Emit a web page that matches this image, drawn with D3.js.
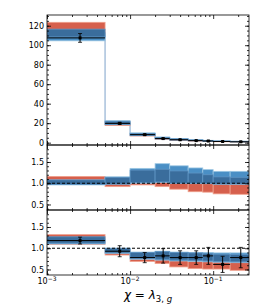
<!DOCTYPE html>
<html>
<head>
<meta charset="utf-8">
<script src="https://cdn.jsdelivr.net/npm/d3@7"></script>
<style>
  body { margin: 0; background: #fff; }
  text { font-family: "DejaVu Sans", sans-serif; fill: #000; }
</style>
</head>
<body>
<div id="chart"></div>
<script>
// Bin edges and bin centres (chi)
const edges = [0.001, 0.005, 0.01, 0.02, 0.03, 0.05, 0.075, 0.1, 0.16, 0.27];
const centers = [0.0025, 0.0075, 0.015, 0.025, 0.04, 0.0625, 0.0875, 0.13, 0.215];

// Top panel: distribution
const topData = [107.5, 19.8, 8.2, 4.2, 3.0, 2.1, 1.7, 1.2, 0.9];
const topErr = [4.5, 1.0, 0.6, 0.4, 0.3, 0.25, 0.2, 0.15, 0.12];
const topRedLo = [110, 17.5, 6.8, 3.4, 2.3, 1.6, 1.3, 0.9, 0.7];
const topRedHi = [123.5, 21, 8.8, 4.6, 3.2, 2.2, 1.8, 1.3, 1.0];
const topBlueLo = [104.5, 18.5, 7.5, 4.0, 2.8, 2.0, 1.6, 1.2, 0.9];
const topBlueHi = [112, 22.5, 10, 5.8, 4.1, 3.0, 2.4, 1.8, 1.4];
const topDarkLo = [108.5, 18.5, 7.2, 3.8, 2.7, 1.9, 1.5, 1.1, 0.85];
const topDarkHi = [116.5, 22, 9.6, 5.5, 3.9, 2.8, 2.2, 1.7, 1.3];

// Middle panel: model ratio
const midRedLo = [1.08, 0.92, 0.96, 0.92, 0.86, 0.80, 0.79, 0.75, 0.74];
const midRedHi = [1.16, 1.05, 1.05, 1.04, 1.02, 1.00, 0.99, 0.98, 0.97];
const midBlueLo = [0.96, 0.98, 1.00, 1.02, 1.00, 0.99, 0.99, 0.98, 0.98];
const midBlueHi = [1.06, 1.15, 1.35, 1.46, 1.41, 1.36, 1.32, 1.28, 1.28];
const midDarkLo = [0.97, 0.98, 1.02, 1.03, 1.00, 1.00, 0.99, 0.98, 0.98];
const midDarkHi = [1.08, 1.14, 1.31, 1.33, 1.29, 1.24, 1.20, 1.15, 1.14];

// Bottom panel: data ratio
const botData = [1.18, 0.93, 0.78, 0.82, 0.78, 0.78, 0.82, 0.62, 0.78];
const botErr = [0.08, 0.13, 0.12, 0.17, 0.16, 0.16, 0.20, 0.19, 0.24];
const botRedLo = [1.09, 0.84, 0.69, 0.64, 0.56, 0.52, 0.51, 0.51, 0.48];
const botRedHi = [1.32, 0.97, 0.85, 0.82, 0.78, 0.76, 0.75, 0.74, 0.72];
const botBlueLo = [1.10, 0.88, 0.74, 0.72, 0.70, 0.69, 0.68, 0.67, 0.66];
const botBlueHi = [1.22, 1.00, 0.91, 0.93, 0.91, 0.90, 0.90, 0.89, 0.89];
const botDarkLo = [1.12, 0.89, 0.76, 0.74, 0.72, 0.71, 0.70, 0.69, 0.68];
const botDarkHi = [1.27, 1.00, 0.90, 0.92, 0.90, 0.89, 0.88, 0.86, 0.85];

// Tick values
const xMajor = [0.001, 0.01, 0.1];
const xExp = ["\u22123", "\u22122", "\u22121"];
const topYTicks = [0, 20, 40, 60, 80, 100, 120];
const ratioYTicks = [0.5, 1.0, 1.5];

const W = 262, H = 306;
const left = 47, right = 249;

const svg = d3.select("#chart").append("svg")
    .attr("width", W).attr("height", H);

const x = d3.scaleLog().domain([0.001, 0.27]).range([left, right]);

const xMinor = [];
[0.001, 0.01, 0.1].forEach(d => {
    for (let k = 2; k <= 9; k++) if (d * k <= 0.27) xMinor.push(d * k);
});

const panels = [
    { y0: 15, y1: 145, domain: [-2.4, 131], ticks: topYTicks, minor: d3.range(0, 131, 5),
      red: [topRedLo, topRedHi], blue: [topBlueLo, topBlueHi], dark: [topDarkLo, topDarkHi],
      data: topData, err: topErr, fmt: d3.format("d"), step: true },
    { y0: 145, y1: 210, domain: [0.37, 1.9], ticks: ratioYTicks, minor: d3.range(0.4, 1.9, 0.1),
      red: [midRedLo, midRedHi], blue: [midBlueLo, midBlueHi], dark: [midDarkLo, midDarkHi],
      fmt: d3.format(".1f"), dashed: true },
    { y0: 210, y1: 275, domain: [0.37, 1.9], ticks: ratioYTicks, minor: d3.range(0.4, 1.9, 0.1),
      red: [botRedLo, botRedHi], blue: [botBlueLo, botBlueHi], dark: [botDarkLo, botDarkHi],
      data: botData, err: botErr, fmt: d3.format(".1f"), dashed: true, labels: true }
];

panels.forEach((p, pi) => {
    const y = d3.scaleLinear().domain(p.domain).range([p.y1, p.y0]);
    const g = svg.append("g");

    const clipId = "clip" + pi;
    svg.append("clipPath").attr("id", clipId)
        .append("rect").attr("x", left).attr("y", p.y0)
        .attr("width", right - left).attr("height", p.y1 - p.y0);
    const plot = g.append("g").attr("clip-path", `url(#${clipId})`);

    // light step outline of the blue prediction
    if (p.step) {
        let d = "";
        edges.slice(0, -1).forEach((e, i) => {
            const yy = y((p.dark[0][i] + p.dark[1][i]) / 2);
            d += (i === 0 ? "M" : "L") + x(e) + "," + yy + "L" + x(edges[i + 1]) + "," + yy;
        });
        plot.append("path").attr("d", d).attr("fill", "none")
            .attr("stroke", "#a9c2dc").attr("stroke-width", 1.5);
    }

    const band = (arr, fill, rim) => {
        plot.append("g").selectAll("rect").data(edges.slice(0, -1)).join("rect")
            .attr("x", (e) => x(e))
            .attr("width", (e, i) => x(edges[i + 1]) - x(e))
            .attr("y", (e, i) => y(arr[1][i]))
            .attr("height", (e, i) => y(arr[0][i]) - y(arr[1][i]))
            .attr("fill", fill)
            .attr("stroke", rim).attr("stroke-width", 0.8);
    };
    band(p.red, "#d6604d", "#efa08c");
    band(p.blue, "#4a8fc5", "#9cc7e3");
    band(p.dark, "#3a6d9c", "#5f95c4");

    if (p.dashed) {
        plot.append("line")
            .attr("x1", left).attr("x2", right)
            .attr("y1", y(1)).attr("y2", y(1))
            .attr("stroke", "#000").attr("stroke-width", 1)
            .attr("stroke-dasharray", "3,2");
    }

    if (p.data) {
        const pts = plot.append("g").selectAll("g").data(p.data).join("g");
        // x error (bin width)
        pts.append("line")
            .attr("x1", (d, i) => x(edges[i])).attr("x2", (d, i) => x(edges[i + 1]))
            .attr("y1", d => y(d)).attr("y2", d => y(d))
            .attr("stroke", "#000").attr("stroke-width", 1);
        pts.append("line")
            .attr("x1", (d, i) => x(centers[i])).attr("x2", (d, i) => x(centers[i]))
            .attr("y1", (d, i) => y(d + p.err[i])).attr("y2", (d, i) => y(d - p.err[i]))
            .attr("stroke", "#000").attr("stroke-width", 1);
        [1, -1].forEach(s => {
            pts.append("line")
                .attr("x1", (d, i) => x(centers[i]) - 2).attr("x2", (d, i) => x(centers[i]) + 2)
                .attr("y1", (d, i) => y(d + s * p.err[i])).attr("y2", (d, i) => y(d + s * p.err[i]))
                .attr("stroke", "#000").attr("stroke-width", 0.8);
        });
        pts.append("rect")
            .attr("x", (d, i) => x(centers[i]) - 1.5).attr("y", d => y(d) - 1.5)
            .attr("width", 3).attr("height", 3).attr("fill", "#000");
    }

    // axes with inward ticks
    const tickStyle = sel => {
        sel.select(".domain").remove();
        sel.selectAll("line").attr("stroke", "#000").attr("stroke-width", 0.8);
    };
    g.append("g").attr("transform", `translate(0,${p.y1})`)
        .call(d3.axisBottom(x).tickValues(xMajor).tickSize(-4).tickPadding(4).tickFormat(""))
        .call(tickStyle);
    g.append("g").attr("transform", `translate(0,${p.y1})`)
        .call(d3.axisBottom(x).tickValues(xMinor).tickSize(-2).tickFormat(""))
        .call(tickStyle);
    g.append("g").attr("transform", `translate(0,${p.y0})`)
        .call(d3.axisTop(x).tickValues(xMajor).tickSize(-4).tickFormat(""))
        .call(tickStyle);
    g.append("g").attr("transform", `translate(0,${p.y0})`)
        .call(d3.axisTop(x).tickValues(xMinor).tickSize(-2).tickFormat(""))
        .call(tickStyle);

    const ly = g.append("g").attr("transform", `translate(${left},0)`)
        .call(d3.axisLeft(y).tickValues(p.ticks).tickSize(-4).tickPadding(3).tickFormat(p.fmt))
        .call(tickStyle);
    ly.selectAll("text").attr("font-size", 8).attr("font-family", "DejaVu Sans");
    g.append("g").attr("transform", `translate(${left},0)`)
        .call(d3.axisLeft(y).tickValues(p.minor.filter(v => v > p.domain[0] && v < p.domain[1])).tickSize(-2).tickFormat(""))
        .call(tickStyle);
    g.append("g").attr("transform", `translate(${right},0)`)
        .call(d3.axisRight(y).tickValues(p.ticks).tickSize(-4).tickFormat(""))
        .call(tickStyle);
    g.append("g").attr("transform", `translate(${right},0)`)
        .call(d3.axisRight(y).tickValues(p.minor.filter(v => v > p.domain[0] && v < p.domain[1])).tickSize(-2).tickFormat(""))
        .call(tickStyle);

    // frame
    g.append("rect").attr("x", left).attr("y", p.y0)
        .attr("width", right - left).attr("height", p.y1 - p.y0)
        .attr("fill", "none").attr("stroke", "#000").attr("stroke-width", 0.8);

    if (p.labels) {
        const lab = g.append("g").selectAll("text").data(xMajor).join("text")
            .attr("x", d => x(d)).attr("y", p.y1 + 9)
            .attr("text-anchor", "middle").attr("font-size", 8);
        lab.append("tspan").text("10");
        lab.append("tspan").attr("dy", -3.5).attr("font-size", 6).text((d, i) => xExp[i]);
    }
});

// x axis title
const t = svg.append("text").attr("x", 148).attr("y", 299)
    .attr("text-anchor", "middle").attr("font-size", 12);
t.append("tspan").attr("font-style", "italic").text("\u03c7");
t.append("tspan").text(" = ");
t.append("tspan").attr("font-style", "italic").text("\u03bb");
t.append("tspan").attr("dy", 3).attr("font-size", 8.5).text("3, ");
t.append("tspan").attr("font-size", 8.5).attr("font-style", "italic").text("g");
</script>
</body>
</html>
